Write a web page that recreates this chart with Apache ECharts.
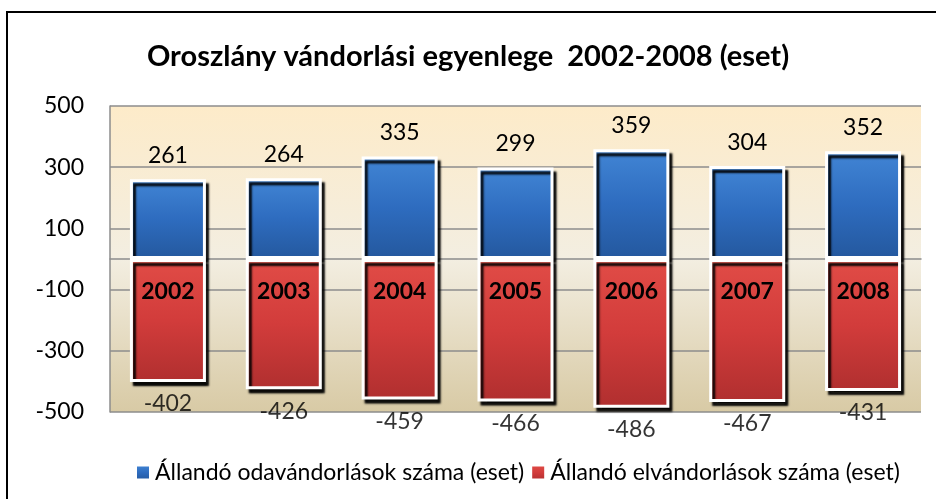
<!DOCTYPE html>
<html>
<head>
<meta charset="utf-8">
<script src="https://cdn.jsdelivr.net/npm/echarts@6/dist/echarts.min.js"></script>
<style>
  html, body { margin: 0; padding: 0; background: #fff; }
  #main { width: 936px; height: 499px; }
</style>
</head>
<body>
<div id="main"></div>
<script>
// adatok
const years = ['2002', '2003', '2004', '2005', '2006', '2007', '2008'];
const odavandorlas = [261, 264, 335, 299, 359, 304, 352];
const elvandorlas = [-402, -426, -459, -466, -486, -467, -431];
const yTicks = [-500, -300, -100, 100, 300, 500];

const FONT = 'Lato';

const chart = echarts.init(document.getElementById('main'));

const blueFill = new echarts.graphic.LinearGradient(0, 0, 0, 1, [
  { offset: 0, color: '#6aa6e6' },
  { offset: 0.06, color: '#3f82d2' },
  { offset: 0.5, color: '#2e6cbf' },
  { offset: 1, color: '#24589e' }
]);
const redFill = new echarts.graphic.LinearGradient(0, 0, 0, 1, [
  { offset: 0, color: '#f27a6c' },
  { offset: 0.06, color: '#df4a45' },
  { offset: 0.5, color: '#d23c3b' },
  { offset: 1, color: '#b02f2f' }
]);

chart.setOption({
  animation: false,
  textStyle: { fontFamily: FONT },
  graphic: [{
    // külső keret
    type: 'rect',
    shape: { x: 7, y: 12, width: 960, height: 520 },
    style: { fill: 'none', stroke: '#000', lineWidth: 2 },
    z: 100
  }],
  title: {
    text: 'Oroszlány vándorlási egyenlege  2002-2008 (eset)',
    left: 'center',
    top: 37,
    textStyle: { fontFamily: FONT, fontSize: 29, fontWeight: 'bold', color: '#000' }
  },
  legend: {
    left: 130,
    top: 456,
    width: 800,
    itemWidth: 14,
    itemHeight: 14,
    itemGap: 6,
    icon: 'rect',
    textStyle: { fontFamily: FONT, fontSize: 23, color: '#000' },
    data: ['Állandó odavándorlások száma (eset)', 'Állandó elvándorlások száma (eset)']
  },
  grid: {
    left: 110,
    right: 15,
    top: 106,
    bottom: 87,
    show: true,
    borderWidth: 0,
    backgroundColor: {
      type: 'linear', x: 0, y: 0, x2: 0, y2: 1,
      colorStops: [
        { offset: 0, color: '#fdebc9' },
        { offset: 0.5, color: '#f3eee1' },
        { offset: 1, color: '#d8caa5' }
      ]
    }
  },
  xAxis: {
    type: 'category',
    data: years,
    axisLine: { onZero: true, lineStyle: { color: '#8c8c8c', width: 1.5 } },
    axisTick: { show: false },
    axisLabel: { show: false }
  },
  yAxis: {
    type: 'value',
    min: yTicks[0],
    max: yTicks[yTicks.length - 1],
    interval: 200,
    axisLine: { show: true, lineStyle: { color: '#8c8c8c', width: 1.5 } },
    axisTick: { show: false },
    axisLabel: { fontFamily: FONT, fontSize: 23, color: '#000', margin: 26 },
    splitLine: { lineStyle: { color: '#8c8c8c', width: 1.5 } }
  },
  series: [
    {
      name: 'Állandó odavándorlások száma (eset)',
      type: 'bar',
      stack: 'ossz',
      barWidth: 76,
      data: odavandorlas,
      itemStyle: {
        color: blueFill,
        borderColor: '#fff',
        borderWidth: 3,
        shadowColor: 'rgba(0,0,0,0.95)',
        shadowBlur: 2,
        shadowOffsetX: 3,
        shadowOffsetY: 4
      },
      label: {
        show: true,
        position: 'top',
        distance: 12,
        fontFamily: FONT,
        fontSize: 23,
        color: '#000'
      }
    },
    {
      name: 'Állandó elvándorlások száma (eset)',
      type: 'bar',
      stack: 'ossz',
      barWidth: 76,
      data: elvandorlas,
      itemStyle: {
        color: redFill,
        borderColor: '#fff',
        borderWidth: 3,
        shadowColor: 'rgba(0,0,0,0.95)',
        shadowBlur: 2,
        shadowOffsetX: 3,
        shadowOffsetY: 4
      },
      label: {
        show: true,
        position: 'insideTop',
        distance: 21,
        formatter: p => p.name,
        fontFamily: FONT,
        fontSize: 23,
        fontWeight: 'bold',
        color: '#000'
      }
    },
    {
      // negatív értékek feliratai az oszlopok alatt
      name: 'cimke',
      type: 'scatter',
      data: elvandorlas,
      symbolSize: 1,
      itemStyle: { color: 'transparent' },
      silent: true,
      z: 5,
      label: {
        show: true,
        position: 'bottom',
        distance: 10,
        fontFamily: FONT,
        fontSize: 23,
        color: '#000'
      }
    }
  ]
});
</script>
</body>
</html>
